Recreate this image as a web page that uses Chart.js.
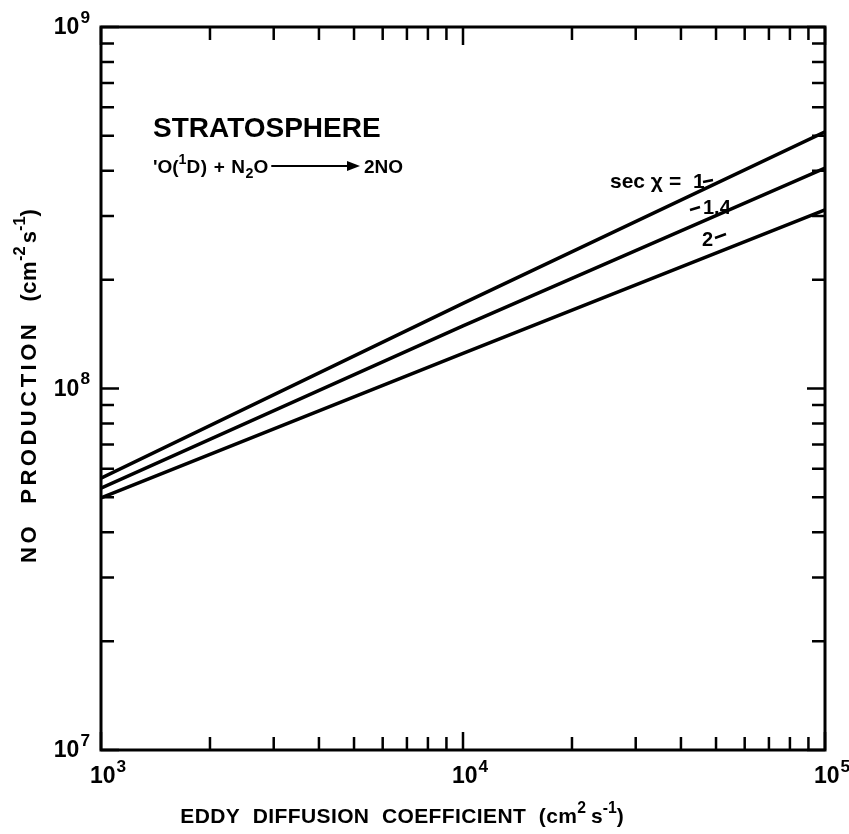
<!DOCTYPE html>
<html lang="en">
<head>
  <meta charset="UTF-8" />
  <title>NO production vs eddy diffusion</title>
  <script src="https://cdn.jsdelivr.net/npm/chart.js"></script>
  <style>
    body {
      margin: 0;
      background: #fff;
    }
    #wrap {
      width: 849px;
      height: 834px;
    }
  </style>
</head>
<body>
  <div id="wrap">
    <canvas id="noChart" width="849" height="834"></canvas>
  </div>

  <script>
    // values (log-log, straight lines)
    const eddyK = [1e3, 1e4, 1e5];
    const secChi1 = [5.65e7, 1.72e8, 5.13e8];
    const secChi14 = [5.3e7, 1.49e8, 4.07e8];
    const secChi2 = [4.98e7, 1.25e8, 3.12e8];
    const seriesNames = ['sec χ = 1', 'sec χ = 1.4', 'sec χ = 2'];
    const xDecades = [3, 4, 5];
    const yDecades = [7, 8, 9];

    const FONT = '"Liberation Sans", Arial, sans-serif';
    const toPoints = ys => eddyK.map((x, i) => ({ x, y: ys[i] }));

    // draws text made of normal / sup / sub pieces, returns width
    function drawRich(ctx, parts, x, y, size, align) {
      const setPart = p => {
        ctx.font = 'bold ' + (p.s ? size * 0.75 : size) + 'px ' + FONT;
        ctx.letterSpacing = (p.ls || 0) + 'px';
      };
      const w = parts.reduce((acc, p) => {
        setPart(p);
        return acc + ctx.measureText(p.t).width + (p.gap || 0);
      }, 0);
      let cx = align === 'center' ? x - w / 2 : align === 'right' ? x - w : x;
      ctx.textAlign = 'left';
      ctx.textBaseline = 'alphabetic';
      parts.forEach(p => {
        setPart(p);
        const dy = p.s === 'sup' ? -size * 0.48 : p.s === 'sub' ? size * 0.28 : 0;
        ctx.fillText(p.t, cx, y + dy);
        cx += ctx.measureText(p.t).width + (p.gap || 0);
      });
      ctx.letterSpacing = '0px';
      return w;
    }

    const framePlugin = {
      id: 'frame',
      afterDraw(chart) {
        const { ctx, chartArea: a, scales } = chart;
        const xs = scales.x, ys = scales.y;
        ctx.save();
        ctx.strokeStyle = '#000';
        ctx.fillStyle = '#000';
        ctx.lineWidth = 3;
        ctx.strokeRect(a.left, a.top, a.right - a.left, a.bottom - a.top);

        // inward ticks on all four sides
        ctx.lineWidth = 2.5;
        ctx.beginPath();
        xDecades.forEach(d => {
          for (let m = 1; m <= 9; m++) {
            const v = m * Math.pow(10, d);
            if (v > xs.max) break;
            const px = xs.getPixelForValue(v);
            const len = m === 1 ? 18 : 13;
            ctx.moveTo(px, a.bottom); ctx.lineTo(px, a.bottom - len);
            ctx.moveTo(px, a.top); ctx.lineTo(px, a.top + len);
          }
        });
        yDecades.forEach(d => {
          for (let m = 1; m <= 9; m++) {
            const v = m * Math.pow(10, d);
            if (v > ys.max) break;
            const py = ys.getPixelForValue(v);
            const len = m === 1 ? 18 : 13;
            ctx.moveTo(a.left, py); ctx.lineTo(a.left + len, py);
            ctx.moveTo(a.right, py); ctx.lineTo(a.right - len, py);
          }
        });
        ctx.stroke();

        // tick labels 10^n
        xDecades.forEach(d => {
          const px = xs.getPixelForValue(Math.pow(10, d));
          drawRich(ctx, [{ t: '10', gap: 1 }, { t: String(d), s: 'sup' }], px + 7, a.bottom + 33, 23, 'center');
        });
        yDecades.forEach(d => {
          const py = ys.getPixelForValue(Math.pow(10, d));
          drawRich(ctx, [{ t: '10', gap: 1 }, { t: String(d), s: 'sup' }], a.left - 11, py + 7, 23, 'right');
        });

        // axis titles
        drawRich(ctx, [
          { t: 'EDDY  DIFFUSION  COEFFICIENT  (cm', ls: 0.4 },
          { t: '2', s: 'sup', gap: 5 },
          { t: 's' }, { t: '-1', s: 'sup' }, { t: ')' }
        ], 402, 823, 21, 'center');

        ctx.save();
        ctx.translate(36, 386);
        ctx.rotate(-Math.PI / 2);
        drawRich(ctx, [
          { t: 'NO  PRODUCTION  ', ls: 3.5 },
          { t: '(cm', ls: 0.5 },
          { t: '-2', s: 'sup', gap: 3 },
          { t: 's' }, { t: '-1', s: 'sup' }, { t: ')' }
        ], 0, 0, 22, 'center');
        ctx.restore();

        // annotations
        ctx.font = 'bold 28px ' + FONT;
        ctx.fillText('STRATOSPHERE', 153, 137);
        const eqW = drawRich(ctx, [
          { t: "'O(" }, { t: '1', s: 'sup' }, { t: 'D) + N', ls: 0.6 },
          { t: '2', s: 'sub' }, { t: 'O' }
        ], 153, 173, 19, 'left');
        const ax0 = 153 + eqW + 3;
        ctx.lineWidth = 2;
        ctx.beginPath();
        ctx.moveTo(ax0, 166); ctx.lineTo(350, 166);
        ctx.stroke();
        ctx.beginPath();
        ctx.moveTo(360, 166); ctx.lineTo(347, 161); ctx.lineTo(347, 171);
        ctx.closePath(); ctx.fill();
        ctx.font = 'bold 19px ' + FONT;
        ctx.fillText('2NO', 364, 173);

        // curve labels
        drawRich(ctx, [{ t: 'sec ' }, { t: 'χ', gap: 6 }, { t: '=  1' }], 610, 188, 21, 'left');
        drawRich(ctx, [{ t: '1.4' }], 703, 214, 20, 'left');
        drawRich(ctx, [{ t: '2' }], 702, 246, 20, 'left');
        ctx.lineWidth = 2.5;
        ctx.beginPath();
        ctx.moveTo(703, 182); ctx.lineTo(713, 180);
        ctx.moveTo(690, 210); ctx.lineTo(700, 207);
        ctx.moveTo(715, 238); ctx.lineTo(726, 234);
        ctx.stroke();
        ctx.restore();
      }
    };

    const lineStyle = {
      borderColor: '#000',
      borderWidth: 3.5,
      pointRadius: 0,
      tension: 0,
      fill: false
    };

    new Chart(document.getElementById('noChart'), {
      type: 'line',
      data: {
        datasets: [
          { label: seriesNames[0], data: toPoints(secChi1), ...lineStyle },
          { label: seriesNames[1], data: toPoints(secChi14), ...lineStyle },
          { label: seriesNames[2], data: toPoints(secChi2), ...lineStyle }
        ]
      },
      options: {
        responsive: false,
        animation: false,
        layout: { padding: { left: 101, right: 24, top: 27, bottom: 84 } },
        scales: {
          x: { type: 'logarithmic', min: 1e3, max: 1e5, display: false },
          y: { type: 'logarithmic', min: 1e7, max: 1e9, display: false }
        },
        plugins: {
          legend: { display: false },
          tooltip: { enabled: false }
        }
      },
      plugins: [framePlugin]
    });
  </script>
</body>
</html>
